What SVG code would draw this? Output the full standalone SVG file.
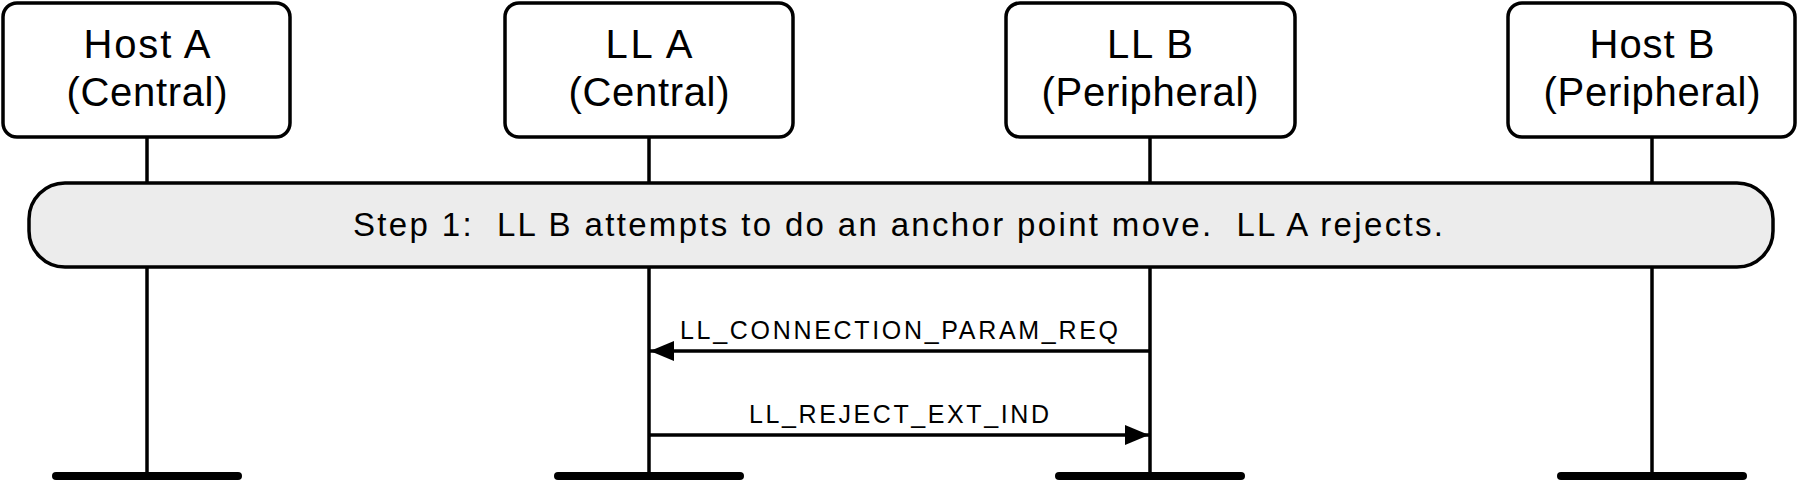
<svg xmlns="http://www.w3.org/2000/svg" width="1799" height="483" viewBox="0 0 1799 483">
<style>
text{font-family:"Liberation Sans",Arial,sans-serif;fill:#000;text-anchor:middle}
.box{fill:#fff;stroke:#000;stroke-width:3.5}
.t{font-size:40px}
.ll{stroke:#000;stroke-width:3.5}
.bar{stroke:#000;stroke-width:8;stroke-linecap:round}
.m{stroke:#000;stroke-width:3.5;fill:none}
.lbl{font-size:25px}
</style>
<defs><marker id="a" markerWidth="24" markerHeight="20" refX="24" refY="10" orient="auto" markerUnits="userSpaceOnUse"><path d="M0,0 L24,10 L0,20Z" fill="#000"/></marker></defs>
<g id="lifelines">
<line class="ll" x1="147" y1="137" x2="147" y2="476"/>
<line class="ll" x1="649" y1="137" x2="649" y2="476"/>
<line class="ll" x1="1150" y1="137" x2="1150" y2="476"/>
<line class="ll" x1="1652" y1="137" x2="1652" y2="476"/>
<line class="bar" x1="56" y1="476" x2="238" y2="476"/>
<line class="bar" x1="558" y1="476" x2="740" y2="476"/>
<line class="bar" x1="1059" y1="476" x2="1241" y2="476"/>
<line class="bar" x1="1561" y1="476" x2="1743" y2="476"/>
</g>
<g id="hostA"><rect class="box" x="3" y="3" width="287" height="134" rx="14"/><text class="t" x="147" y="58" textLength="127">Host A</text><text class="t" x="147" y="106" textLength="161">(Central)</text></g>
<g id="llA"><rect class="box" x="505" y="3" width="288" height="134" rx="14"/><text class="t" x="649" y="58" textLength="87">LL A</text><text class="t" x="649" y="106" textLength="161">(Central)</text></g>
<g id="llB"><rect class="box" x="1006" y="3" width="289" height="134" rx="14"/><text class="t" x="1150" y="58" textLength="86">LL B</text><text class="t" x="1150" y="106" textLength="217">(Peripheral)</text></g>
<g id="hostB"><rect class="box" x="1508" y="3" width="287" height="134" rx="14"/><text class="t" x="1652" y="58" textLength="125">Host B</text><text class="t" x="1652" y="106" textLength="217">(Peripheral)</text></g>
<g id="step1"><rect x="29" y="183" width="1744" height="84" rx="36" fill="#ececec" stroke="#000" stroke-width="3.5"/><text x="898" y="236" font-size="33" textLength="1090" style="white-space:pre">Step 1:  LL B attempts to do an anchor point move.  LL A rejects.</text></g>
<g id="connectors">
<line class="m" x1="1150" y1="351" x2="650" y2="351" marker-end="url(#a)"/>
<text class="lbl" x="899" y="339" textLength="438">LL_CONNECTION_PARAM_REQ</text>
<line class="m" x1="649" y1="435" x2="1149" y2="435" marker-end="url(#a)"/>
<text class="lbl" x="899" y="423" textLength="300">LL_REJECT_EXT_IND</text>
</g>
</svg>
